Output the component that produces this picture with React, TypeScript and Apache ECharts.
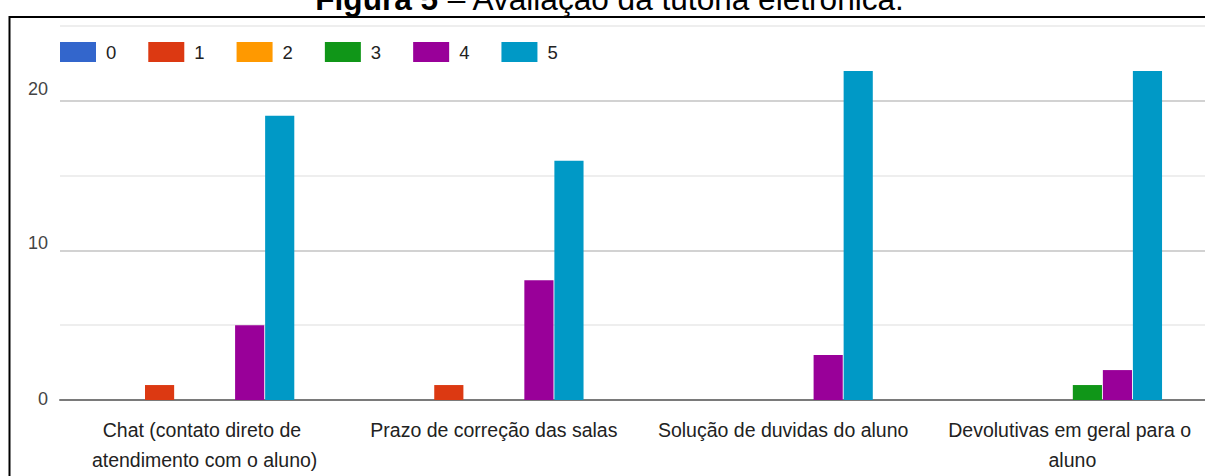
import React, { useEffect, useRef } from "react";
import * as echarts from "echarts";

const categories = [
  "Chat (contato direto de atendimento com o aluno)",
  "Prazo de correção das salas",
  "Solução de duvidas do aluno",
  "Devolutivas em geral para o aluno",
];
const seriesNames = ["0", "1", "2", "3", "4", "5"];
const values0 = [0, 0, 0, 0];
const values1 = [1, 1, 0, 0];
const values2 = [0, 0, 0, 0];
const values3 = [0, 0, 0, 1];
const values4 = [5, 8, 3, 2];
const values5 = [19, 16, 22, 22];
const seriesColors = ["#3366cc", "#dc3912", "#ff9900", "#109618", "#990099", "#0099c6"];
const yLabelValues = [0, 10, 20];
const titleBold = "Figura 5";
const titleRest = " – Avaliação da tutoria eletrônica.";

const FONT = "'Liberation Sans', Arial, sans-serif";

export default function App() {
  const ref = useRef<HTMLDivElement>(null);
  useEffect(() => {
    if (!ref.current) return;
    const chart = echarts.init(ref.current, null, { renderer: "svg" });
    const allValues = [values0, values1, values2, values3, values4, values5];
    chart.setOption({
      animation: false,
      color: seriesColors,
      textStyle: { fontFamily: FONT },
      grid: { left: 60, right: 0, top: 26, bottom: 76, containLabel: false },
      legend: {
        left: 60,
        top: 42,
        padding: 0,
        icon: "rect",
        itemWidth: 36,
        itemHeight: 20,
        itemGap: 32,
        textStyle: { fontSize: 18.5, color: "#222", fontFamily: FONT, padding: [0, 0, 0, 5] },
        data: seriesNames,
      },
      xAxis: {
        type: "category",
        data: categories,
        axisTick: { show: false },
        axisLine: { lineStyle: { color: "#7a7a7a", width: 2 } },
        axisLabel: {
          interval: 0,
          margin: 15,
          fontSize: 19.5,
          lineHeight: 30,
          color: "#222",
          fontFamily: FONT,
          width: 272,
          overflow: "break",
        },
      },
      yAxis: {
        type: "value",
        min: 0,
        max: 25,
        interval: 5,
        axisLine: { show: false },
        axisTick: { show: false },
        splitLine: { lineStyle: { color: ["#d2d2d2", "#eeeeee"], width: 2 } },
        axisLabel: {
          margin: 12,
          color: "#444",
          fontSize: 18,
          fontFamily: FONT,
          formatter: (v: number) => {
            if (!yLabelValues.includes(v)) return "";
            if (v === 20) return "{a|" + v + "}";
            if (v === 10) return "{b|" + v + "}";
            return "{c|" + v + "}";
          },
          rich: {
            a: { fontSize: 18, color: "#444", fontFamily: FONT, padding: [0, 0, 24, 0] },
            b: { fontSize: 18, color: "#444", fontFamily: FONT, padding: [0, 0, 15, 0] },
            c: { fontSize: 18, color: "#444", fontFamily: FONT, padding: [0, 0, 2, 0] },
          },
        },
      },
      series: seriesNames.map((name, i) => ({
        name,
        type: "bar",
        data: allValues[i],
        barGap: "3%",
        barCategoryGap: "38%",
        itemStyle: { color: seriesColors[i] },
      })),
      graphic: [
        {
          type: "text",
          x: 610,
          y: -1,
          style: {
            text: "{b|" + titleBold + "}" + titleRest,
            fontSize: 31.6,
            fontFamily: FONT,
            fill: "#000",
            align: "center",
            verticalAlign: "middle",
            rich: {
              b: { fontSize: 31.6, fontWeight: "bold", fontFamily: FONT, fill: "#000" },
            },
          },
        },
        {
          type: "line",
          shape: { x1: 9, y1: 17, x2: 1217, y2: 17 },
          style: { stroke: "#000", lineWidth: 2 },
        },
        {
          type: "line",
          shape: { x1: 9.5, y1: 16, x2: 9.5, y2: 480 },
          style: { stroke: "#000", lineWidth: 2 },
        },
      ],
    });
    return () => chart.dispose();
  }, []);
  return (
    <div style={{ position: "absolute", left: 0, top: 0, width: 1205, height: 476, overflow: "hidden", background: "#fff" }}>
      <div ref={ref} style={{ width: 1217, height: 476 }} />
    </div>
  );
}
